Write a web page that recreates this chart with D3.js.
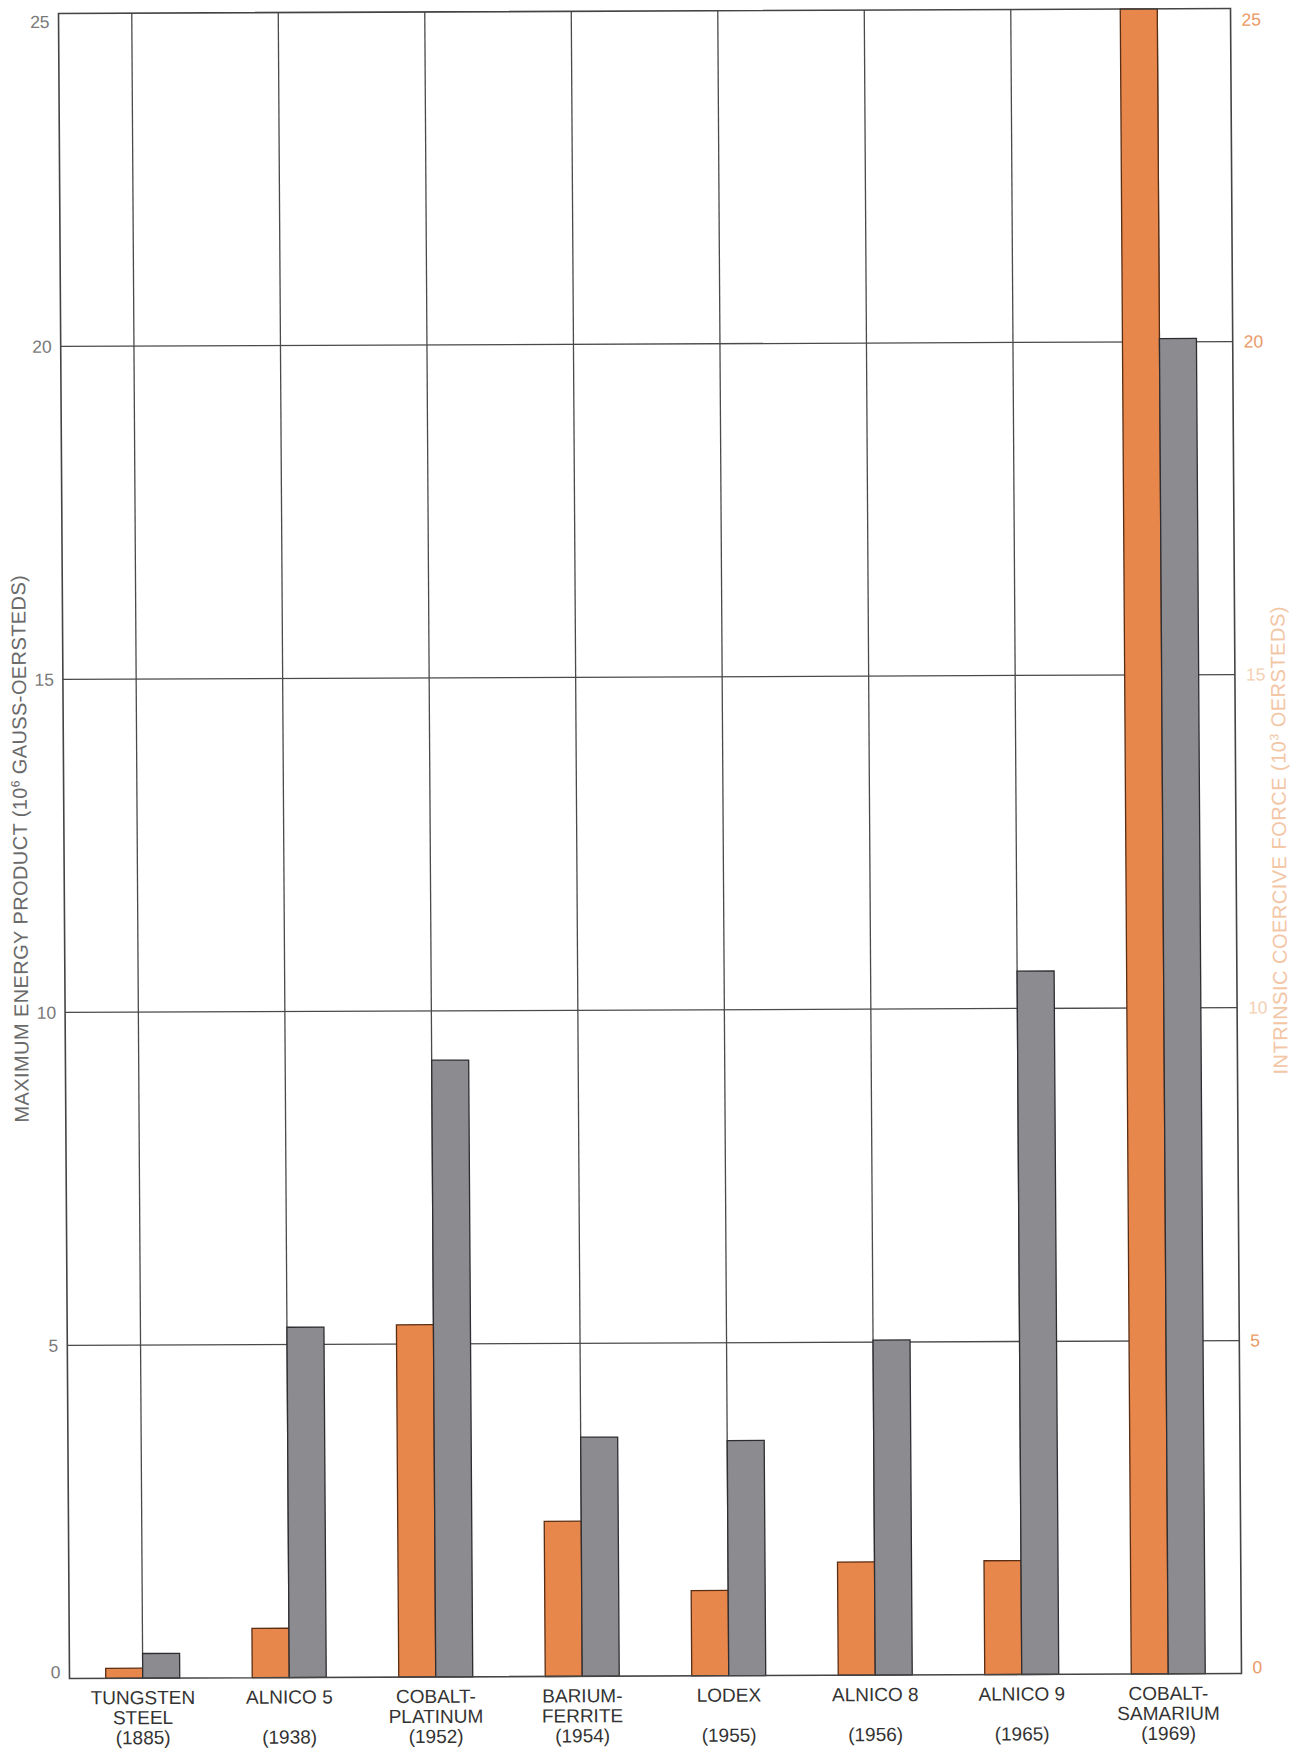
<!DOCTYPE html>
<html>
<head>
<meta charset="utf-8">
<script src="https://cdn.jsdelivr.net/npm/d3@7"></script>
<style>
  body { margin: 0; background: #fff; }
  svg { display: block; font-family: "Liberation Sans", Arial, sans-serif; }
</style>
</head>
<body>
<script>
// magnet materials, one group per material
var names = [["TUNGSTEN", "STEEL"], ["ALNICO 5"], ["COBALT-", "PLATINUM"], ["BARIUM-", "FERRITE"],
             ["LODEX"], ["ALNICO 8"], ["ALNICO 9"], ["COBALT-", "SAMARIUM"]];
var years = ["1885", "1938", "1952", "1954", "1955", "1956", "1965", "1969"];
// max energy product, 10^6 gauss-oersteds (grey bars, left axis)
var energy = [0.37, 5.26, 9.26, 3.59, 3.53, 5.03, 10.56, 20.05];
// intrinsic coercive force, 10^3 oersteds (orange bars, right axis)
var coercive = [0.15, 0.74, 5.29, 2.33, 1.28, 1.70, 1.71, 25];
var ticks = [0, 5, 10, 15, 20, 25];

var width = 1305,
    height = 1750;
var plotLeft = 64, plotRight = 1236, plotTop = 11, plotBottom = 1676;

var orange = "#e8874b",
    grey = "#8b8b90";

var svg = d3.select("body").append("svg")
    .attr("width", width)
    .attr("height", height);

// the printed figure is a bit skewed on the page: verticals lean right at the
// bottom, horizontals rise slightly to the right
var cx = width / 2, cy = (plotTop + plotBottom) / 2,
    lean = 0.0066, tilt = 0.0042;
var g = svg.append("g")
    .attr("transform", "matrix(1," + (-tilt) + "," + lean + ",1," + (-lean * cy) + "," + (tilt * cx) + ")");

var x = d3.scaleBand()
    .domain(d3.range(names.length))
    .range([plotLeft, plotRight]);

var xs = d3.scaleBand()
    .domain(["coercive", "energy"])
    .range([-37, 37]);

var y = d3.scaleLinear()
    .domain([0, 25])
    .range([plotBottom, plotTop]);

var yr = d3.scaleLinear()
    .domain([0, 25])
    .range([plotBottom, plotTop]);

// grid
g.append("g").selectAll("line")
    .data(ticks.slice(1, -1))
    .enter().append("line")
    .attr("x1", plotLeft).attr("x2", plotRight)
    .attr("y1", function(d) { return y(d); })
    .attr("y2", function(d) { return y(d); })
    .attr("stroke", "#4a4a4a")
    .attr("stroke-width", 1.3);

g.append("g").selectAll("line")
    .data(d3.range(names.length))
    .enter().append("line")
    .attr("x1", function(i) { return x(i) + x.bandwidth() / 2; })
    .attr("x2", function(i) { return x(i) + x.bandwidth() / 2; })
    .attr("y1", plotTop).attr("y2", plotBottom)
    .attr("stroke", "#4a4a4a")
    .attr("stroke-width", 1.3);

// bars
var rows = d3.range(names.length).map(function(i) {
  return [{key: "coercive", i: i, v: coercive[i], s: yr},
          {key: "energy", i: i, v: energy[i], s: y}];
});

g.append("g").selectAll("g")
    .data(rows)
    .enter().append("g")
    .attr("transform", function(d, i) { return "translate(" + (x(i) + x.bandwidth() / 2) + ",0)"; })
  .selectAll("rect")
    .data(function(d) { return d; })
    .enter().append("rect")
    .attr("x", function(d) { return xs(d.key); })
    .attr("width", xs.bandwidth())
    .attr("y", function(d) { return d.s(d.v); })
    .attr("height", function(d) { return d.s(0) - d.s(d.v); })
    .attr("fill", function(d) { return d.key == "coercive" ? orange : grey; })
    .attr("stroke", function(d) { return d.key == "coercive" ? "#5a2e14" : "#2e2e32"; })
    .attr("stroke-width", 1.3);

// frame
g.append("rect")
    .attr("x", plotLeft).attr("y", plotTop)
    .attr("width", plotRight - plotLeft).attr("height", plotBottom - plotTop)
    .attr("fill", "none")
    .attr("stroke", "#444")
    .attr("stroke-width", 1.6);

// end labels sit inside the frame, not centred on it
function nudge(d) { return d == 25 ? "0.8em" : d == 0 ? "-0.05em" : "0.32em"; }

// left axis
var yAxis = g.append("g")
    .attr("transform", "translate(" + plotLeft + ",0)")
    .call(d3.axisLeft(y).tickValues(ticks).tickSize(0).tickPadding(9));
yAxis.select(".domain").remove();
yAxis.selectAll("text")
    .attr("font-size", 17.5)
    .attr("font-family", "Liberation Sans, Arial, sans-serif")
    .attr("fill", "#7a7a7a")
    .attr("dy", nudge);

// right axis
var yAxisR = g.append("g")
    .attr("transform", "translate(" + plotRight + ",0)")
    .call(d3.axisRight(yr).tickValues(ticks).tickSize(0).tickPadding(11));
yAxisR.select(".domain").remove();
yAxisR.selectAll("text")
    .attr("font-size", 17.5)
    .attr("font-family", "Liberation Sans, Arial, sans-serif")
    .attr("fill", function(d) { return (d == 10 || d == 15) ? "#f4cfb4" : "#eb9a66"; })
    .attr("dy", function(d) { return d == 25 ? "0.95em" : nudge(d); });

// axis titles
var tl = g.append("text")
    .attr("transform", "translate(27,846) rotate(-90)")
    .attr("text-anchor", "middle")
    .attr("font-size", 20)
    .attr("letter-spacing", 0.4)
    .attr("fill", "#6a6a6a");
tl.append("tspan").text("MAXIMUM ENERGY PRODUCT (10");
tl.append("tspan").attr("font-size", 12).attr("dy", -7).text("6");
tl.append("tspan").attr("dy", 7).text(" GAUSS-OERSTEDS)");

var tr = g.append("text")
    .attr("transform", "translate(1286,843) rotate(-90)")
    .attr("text-anchor", "middle")
    .attr("font-size", 20)
    .attr("letter-spacing", 0.5)
    .attr("fill", "#f3c6a6");
tr.append("tspan").text("INTRINSIC COERCIVE FORCE (10");
tr.append("tspan").attr("font-size", 12).attr("dy", -7).text("3");
tr.append("tspan").attr("dy", 7).text(" OERSTEDS)");

// category labels
var lab = g.append("g").selectAll("text")
    .data(d3.range(names.length))
    .enter().append("text")
    .attr("text-anchor", "middle")
    .attr("font-size", 19)
    .attr("fill", "#333");

lab.each(function(i) {
  var t = d3.select(this),
      c = x(i) + x.bandwidth() / 2;
  names[i].forEach(function(n, k) {
    t.append("tspan").attr("x", c).attr("y", plotBottom + 26 + k * 20).text(n);
  });
  t.append("tspan").attr("x", c).attr("y", plotBottom + 66).text("(" + years[i] + ")");
});
</script>
</body>
</html>
